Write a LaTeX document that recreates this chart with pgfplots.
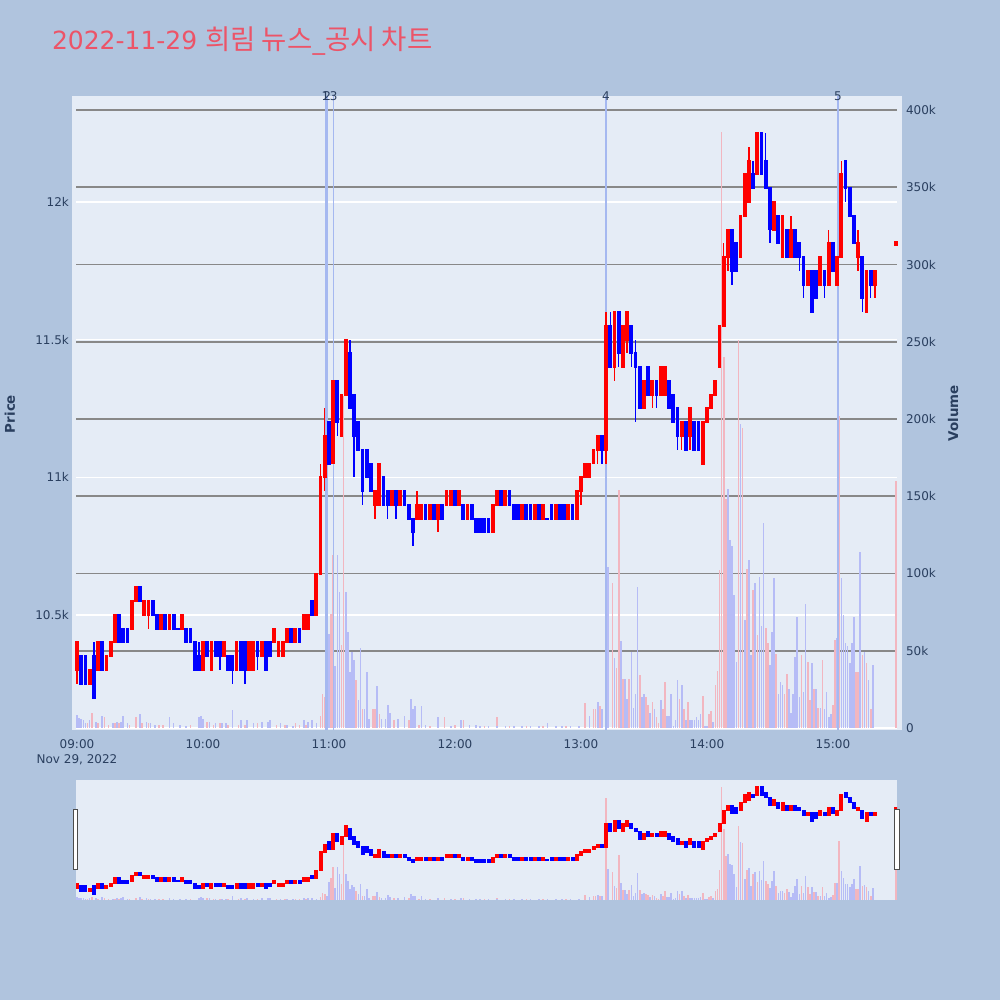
\documentclass[border=0pt]{standalone}
\usepackage{fontspec}
\setmainfont{DejaVu Sans}
\newfontfamily\krfont[Scale=1.1]{Noto Sans CJK KR}
\usepackage{pgfplots}
\usepackage{pgfplotstable}
\pgfplotsset{compat=1.18}

\definecolor{pagebg}{RGB}{176,196,222}
\definecolor{plotbg}{RGB}{229,236,246}
\definecolor{ink}{RGB}{42,63,95}
\definecolor{titlered}{RGB}{236,84,104}
\definecolor{upc}{RGB}{255,0,0}
\definecolor{dnc}{RGB}{0,0,255}
\definecolor{volup}{RGB}{242,182,192}
\definecolor{voldn}{RGB}{182,188,246}
\definecolor{vline}{RGB}{165,184,240}
\definecolor{grid2}{RGB}{136,136,136}

% one row per 2 minutes, t = minutes after 09:00
\pgfplotstableread{
t o h l c
0 10300 10400 10250 10400
2 10350 10350 10250 10250
4 10350 10350 10250 10250
6 10250 10300 10250 10300
8 10350 10400 10200 10200
10 10300 10400 10300 10400
12 10400 10400 10300 10300
14 10300 10350 10300 10350
16 10350 10400 10350 10400
18 10400 10500 10400 10500
20 10500 10500 10400 10400
22 10450 10450 10400 10400
24 10450 10450 10400 10400
26 10450 10550 10450 10550
28 10550 10600 10550 10600
30 10600 10600 10550 10550
32 10500 10550 10500 10550
34 10500 10550 10450 10550
36 10550 10550 10500 10500
38 10500 10500 10450 10450
40 10450 10500 10450 10500
42 10500 10500 10450 10450
44 10450 10500 10450 10500
46 10500 10500 10450 10450
48 10450 10450 10450 10450
50 10450 10500 10450 10500
52 10450 10450 10400 10400
54 10450 10450 10400 10400
56 10400 10400 10300 10300
58 10350 10400 10300 10300
60 10300 10400 10300 10400
62 10400 10400 10350 10350
64 10300 10400 10300 10400
66 10400 10400 10350 10350
68 10400 10400 10300 10350
70 10350 10400 10350 10400
72 10350 10350 10300 10300
74 10350 10350 10250 10300
76 10300 10400 10300 10400
78 10400 10400 10300 10300
80 10400 10400 10250 10300
82 10300 10400 10300 10400
84 10300 10400 10300 10400
86 10400 10400 10300 10350
88 10350 10400 10350 10400
90 10400 10400 10300 10300
92 10400 10400 10350 10350
94 10400 10450 10400 10450
96 10350 10400 10350 10400
98 10350 10400 10350 10400
100 10400 10450 10400 10450
102 10450 10450 10400 10400
104 10400 10450 10400 10450
106 10450 10450 10400 10400
108 10450 10500 10450 10500
110 10450 10500 10450 10500
112 10550 10550 10500 10500
114 10500 10650 10500 10650
116 10650 11050 10650 11000
118 11000 11250 10950 11150
120 11200 11200 11050 11050
122 11050 11350 11050 11350
124 11350 11350 11150 11200
126 11150 11300 11150 11300
128 11300 11500 11300 11500
130 11450 11500 11250 11250
132 11300 11300 11000 11150
134 11200 11200 11100 11100
136 11100 11100 10900 10950
138 11100 11100 11000 11000
140 11050 11050 10950 10950
142 10900 10950 10850 10950
144 10900 11050 10900 11050
146 11000 11000 10900 10900
148 10950 10950 10850 10900
150 10900 10950 10900 10950
152 10950 10950 10850 10900
154 10900 10950 10900 10950
156 10950 10950 10900 10900
158 10900 10900 10850 10850
160 10850 10850 10750 10800
162 10850 10950 10850 10900
164 10850 10900 10850 10900
166 10900 10900 10850 10850
168 10850 10900 10850 10900
170 10900 10900 10850 10850
172 10850 10900 10800 10900
174 10900 10900 10850 10850
176 10900 10950 10900 10950
178 10900 10950 10900 10950
180 10950 10950 10900 10900
182 10900 10950 10900 10950
184 10900 10900 10850 10850
186 10850 10900 10850 10900
188 10900 10900 10850 10850
190 10850 10850 10800 10800
192 10850 10850 10800 10800
194 10850 10850 10800 10800
196 10850 10850 10800 10800
198 10800 10900 10800 10900
200 10900 10950 10900 10950
202 10950 10950 10900 10900
204 10900 10950 10900 10950
206 10950 10950 10900 10900
208 10900 10900 10850 10850
210 10900 10900 10850 10850
212 10850 10900 10850 10900
214 10900 10900 10850 10850
216 10900 10900 10850 10850
218 10850 10900 10850 10900
220 10900 10900 10850 10850
222 10850 10900 10850 10900
224 10850 10850 10850 10850
226 10900 10900 10850 10850
228 10850 10900 10850 10900
230 10900 10900 10850 10850
232 10900 10900 10850 10850
234 10850 10900 10850 10900
236 10900 10900 10850 10850
238 10850 10950 10850 10950
240 10950 11000 10900 11000
242 11000 11050 11000 11050
244 11000 11050 11000 11050
246 11050 11100 11050 11100
248 11100 11150 11050 11150
250 11150 11150 11050 11100
252 11100 11600 11050 11550
254 11550 11600 11400 11400
256 11400 11600 11350 11600
258 11600 11600 11400 11450
260 11400 11550 11400 11550
262 11500 11600 11450 11600
264 11550 11550 11400 11450
266 11450 11500 11200 11400
268 11400 11400 11250 11250
270 11250 11350 11250 11350
272 11400 11400 11300 11300
274 11300 11350 11250 11350
276 11350 11350 11250 11300
278 11300 11400 11300 11400
280 11300 11400 11300 11400
282 11350 11350 11250 11250
284 11300 11300 11200 11200
286 11250 11250 11100 11150
288 11150 11200 11100 11200
290 11200 11200 11100 11100
292 11150 11250 11100 11250
294 11200 11200 11100 11100
296 11200 11200 11100 11100
298 11050 11200 11050 11200
300 11200 11250 11200 11250
302 11250 11300 11250 11300
304 11300 11350 11300 11350
306 11400 11550 11400 11550
308 11550 11850 11550 11800
310 11800 11900 11750 11900
312 11900 11900 11700 11750
314 11850 11850 11750 11750
316 11800 11950 11800 11950
318 11950 12100 11950 12100
320 12000 12200 12000 12150
322 12100 12150 12050 12050
324 12100 12250 12100 12250
326 12250 12250 12100 12100
328 12150 12250 12050 12050
330 12050 12050 11850 11900
332 11900 12000 11900 12000
334 11950 11950 11850 11850
336 11800 11950 11800 11950
338 11900 11900 11800 11800
340 11800 11950 11800 11900
342 11900 11900 11800 11800
344 11850 11850 11750 11800
346 11800 11800 11650 11700
348 11700 11750 11700 11750
350 11750 11750 11600 11600
352 11750 11750 11650 11650
354 11700 11800 11700 11800
356 11750 11750 11650 11700
358 11700 11900 11700 11850
360 11850 11850 11750 11750
362 11700 11800 11700 11800
364 11800 12150 11800 12100
366 12150 12150 12000 12050
368 12050 12050 11950 11950
370 11950 11950 11850 11850
372 11800 11900 11750 11850
374 11800 11800 11600 11650
376 11600 11750 11600 11750
378 11750 11750 11650 11700
380 11700 11750 11650 11750
390 11845 11855 11845 11855
}\price

% volume in thousands, rising minutes
\pgfplotstableread{
t v
5 3
7 10
10 3
13 7
15 2
18 3
20 3
25 2
28 7
31 3
34 3
39 2
41 2
54 2
62 4
65 2
68 3
72 2
77 2
80 2
86 3
95 2
99 2
104 3
106 2
109 2
116 8
117 22
118 20
121 74
122 112
126 54
127 215
133 31
136 12
141 12
142 12
144 9
151 5
158 5
163 2
168 1
175 7
180 2
184 5
194 1
200 7
206 1
214 1
222 1
233 1
242 16
246 12
247 12
249 14
252 348
255 94
257 39
258 154
260 32
263 32
268 34
271 20
272 15
274 17
276 7
277 3
279 12
280 30
287 19
289 12
291 17
298 21
301 9
302 11
304 28
305 37
306 102
307 386
308 240
309 148
315 251
317 194
319 103
322 89
324 60
328 65
329 55
333 48
337 22
338 35
345 47
348 43
349 18
351 25
353 13
355 44
360 15
361 57
363 202
371 36
372 36
374 47
376 42
378 12
390 160
}\volup

% volume in thousands, falling minutes
\pgfplotstableread{
t v
0 8.4
1 6.5
2 6
3 5
4 3
6 5
9 4
12 8
17 3
19 4
21 4
22 8
24 3
30 9
33 4
35 3
37 2
44 7
46 3
49 2
52 1
58 7
59 8
60 6
63 4
66 3
69 3
71 3
74 11.6
78 5
81 5
84 3
88 4
91 4
92 5
97 3
100 2
103 1
108 5
110 4
112 5
114 3
119 14
120 61
123 40
124 112
125 88
128 88
129 62
130 36
131 49
132 44
134 18
135 52
137 12
138 36
139 6
143 27
145 6
147 6
148 15
149 10
153 6
156 8
159 19
160 12
161 14
164 14
166 2
172 7
178 1
183 5
187 2
190 2
192 1
196 1.5
200 1
204 1
208 1.5
212 1
216 1
220 1.5
224 3
228 1
231 1.5
235 1
239 1.5
244 8
248 17
250 12
253 104
256 45
259 56
261 32
262 19
264 49
265 13
266 22
267 91
269 20
270 22
273 10
275 12
278 18
281 8
282 8
283 22
284 1
285 5
286 31
288 28
290 5
292 5
293 5
294 5
295 7
296 5
297 9
299 1
300 1
303 4
310 155
311 122
312 118
313 86
314 43
316 197
318 70
320 109
321 47
323 94
325 98
326 66
327 133
330 41
331 62
332 97
334 22
335 30
336 28
339 25
340 10
341 22
342 46
343 72
344 20
346 23
347 80
350 42
352 25
354 13
356 12
357 23
358 7
359 9
362 58
364 97
365 73
366 55
367 53
368 42
369 55
370 72
373 114
375 49
377 31
379 41
}\voldn

\pgfplotsset{
  frame/.style={scale only axis, anchor=south west, width=410.5pt,
    xmin=-0.48, xmax=390.5, scaled ticks=false,
    axis line style={draw=none}, tick style={draw=none}, major tick length=0pt,
    ticklabel style={font=\fontsize{6}{7.5}\selectfont, text=ink}},
  main/.style={frame, at={(38pt,135pt)}, height=317pt},
  mini/.style={frame, at={(38pt,50pt)}, height=60pt, hide axis},
  pricey/.style={ymin=10082, ymax=12385},
  voly/.style={ymin=-1.3, ymax=409.1},
  candle/.style 2 args={draw=none, mark=none, forget plot,
    error bars/y dir=both, error bars/y explicit, error bars/error mark=none,
    error bars/error bar style={line width=#1, draw=#2, solid}},
}

\begin{document}
\begin{tikzpicture}[font=\fontsize{6}{7.5}\selectfont]
\fill[pagebg] (0,0) rectangle (500pt,500pt);
\fill[plotbg] (36pt,135pt) rectangle (451pt,452pt);
\fill[plotbg] (38pt,50pt) rectangle (448.5pt,110pt);

\node[anchor=west, inner sep=0pt, text=titlered, font=\fontsize{12.5}{15}\selectfont]
  at (25.8pt,479.5pt) {2022-11-29 {\krfont 희림 뉴스}\_{\krfont 공시 차트}};
\node[rotate=90, text=ink, font=\bfseries\fontsize{6.7}{8}\selectfont]
  at (5pt,293pt) {Price};
\node[rotate=90, text=ink, font=\bfseries\fontsize{6.7}{8}\selectfont]
  at (476.5pt,293.5pt) {Volume};

% price grid and labels
\begin{axis}[main, pricey,
  ytick={10500,11000,11500,12000}, yticklabels={10.5k,11k,11.5k,12k},
  ymajorgrids, y grid style={white, line width=0.6pt},
  xtick={0,60,...,360},
  xticklabels={{09:00\\Nov 29, 2022},10:00,11:00,12:00,13:00,14:00,15:00},
  xticklabel style={align=center, yshift=-1.5pt}]
\addplot[draw=none] coordinates {(0,11000)};
\end{axis}

% volume
\begin{axis}[main, voly, xtick=\empty,
  yticklabel pos=right, yticklabel style={xshift=1pt},
  ytick={0,50,...,400},
  yticklabels={0,50k,100k,150k,200k,250k,300k,350k,400k},
  ymajorgrids, y grid style={grid2, line width=0.8pt}]
\addplot[white, line width=1pt] coordinates {(-0.48,0) (390.5,0)};
\addplot[ycomb, volup, line width=0.8pt] table[x=t, y=v] {\volup};
\addplot[ycomb, voldn, line width=0.8pt] table[x=t, y=v] {\voldn};
\end{axis}

% candles and event lines
\begin{axis}[main, pricey, hide axis, clip=false]
\addplot[vline, line width=0.9pt] coordinates {(118.3,10082) (118.3,12385)};
\addplot[vline, line width=0.9pt] coordinates {(119.2,10082) (119.2,12385)};
\addplot[vline, line width=0.7pt] coordinates {(122.2,10082) (122.2,12385)};
\addplot[vline, line width=0.6pt] coordinates {(251.9,10082) (251.9,12385)};
\addplot[vline, line width=0.8pt] coordinates {(362.4,10082) (362.4,12385)};
\addplot[candle={0.7pt}{upc}, restrict expr to domain={\thisrow{c}-\thisrow{o}}{1:5000}]
  table[x=t, y expr={(\thisrow{h}+\thisrow{l})/2}, y error expr={(\thisrow{h}-\thisrow{l})/2}] {\price};
\addplot[candle={0.7pt}{dnc}, restrict expr to domain={\thisrow{c}-\thisrow{o}}{-5000:0}]
  table[x=t, y expr={(\thisrow{h}+\thisrow{l})/2}, y error expr={(\thisrow{h}-\thisrow{l})/2}] {\price};
\addplot[candle={1.9pt}{upc}, restrict expr to domain={\thisrow{c}-\thisrow{o}}{1:5000}]
  table[x=t, y expr={(\thisrow{o}+\thisrow{c})/2}, y error expr={abs(\thisrow{c}-\thisrow{o})/2+3.6}] {\price};
\addplot[candle={1.9pt}{dnc}, restrict expr to domain={\thisrow{c}-\thisrow{o}}{-5000:0}]
  table[x=t, y expr={(\thisrow{o}+\thisrow{c})/2}, y error expr={abs(\thisrow{c}-\thisrow{o})/2+3.6}] {\price};
\node[text=ink] at (axis cs:118.3,12385) {1};
\node[text=ink] at (axis cs:119.2,12385) {2};
\node[text=ink] at (axis cs:122.2,12385) {3};
\node[text=ink] at (axis cs:251.9,12385) {4};
\node[text=ink] at (axis cs:362.4,12385) {5};
\end{axis}

% range slider
\begin{axis}[mini, voly]
\addplot[ycomb, volup, line width=0.8pt] table[x=t, y=v] {\volup};
\addplot[ycomb, voldn, line width=0.8pt] table[x=t, y=v] {\voldn};
\end{axis}
\begin{axis}[mini, pricey]
\addplot[candle={2pt}{upc}, restrict expr to domain={\thisrow{c}-\thisrow{o}}{1:5000}]
  table[x=t, y expr={(\thisrow{o}+\thisrow{c})/2}, y error expr={abs(\thisrow{c}-\thisrow{o})/2+14}] {\price};
\addplot[candle={2pt}{dnc}, restrict expr to domain={\thisrow{c}-\thisrow{o}}{-5000:0}]
  table[x=t, y expr={(\thisrow{o}+\thisrow{c})/2}, y error expr={abs(\thisrow{c}-\thisrow{o})/2+14}] {\price};
\end{axis}
\draw[fill=white, draw=black!70, line width=0.5pt] (36.7pt,65pt) rectangle (38.9pt,95pt);
\draw[fill=white, draw=black!70, line width=0.5pt] (447.4pt,65pt) rectangle (449.6pt,95pt);

\pgfresetboundingbox
\useasboundingbox (0,0) rectangle (500pt,500pt);
\end{tikzpicture}
\end{document}
